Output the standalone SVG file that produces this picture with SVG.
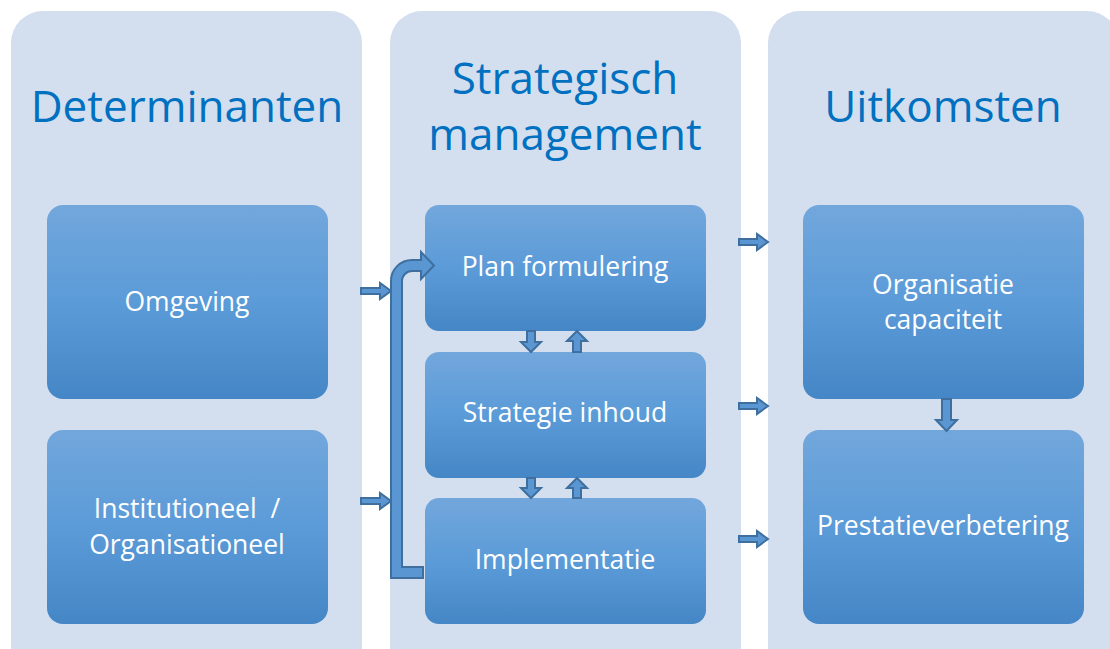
<svg xmlns="http://www.w3.org/2000/svg" width="1110" height="649" viewBox="0 0 1110 649">
  <defs>
    <linearGradient id="boxFill" x1="0" y1="0" x2="0" y2="1">
      <stop offset="0" stop-color="#72a7dc"/>
      <stop offset="0.5" stop-color="#5b9bd8"/>
      <stop offset="1" stop-color="#4586c6"/>
    </linearGradient>
    <style>
      .col { fill: #d3deef; }
      .box { fill: url(#boxFill); }
      .title { font-family: "Open Sans", "Noto Sans", sans-serif; font-size: 44px; fill: #0070c0; text-anchor: middle; }
      .label { font-family: "Open Sans", "Noto Sans", sans-serif; font-size: 26.5px; fill: #ffffff; text-anchor: middle; white-space: pre; }
      .arrow { fill: #5a97d2; stroke: #3e6f9f; stroke-width: 2; stroke-linejoin: miter; }
    </style>
  </defs>

  <rect width="1110" height="649" fill="#ffffff"/>

  <!-- column backgrounds -->
  <g id="col-determinanten">
    <rect class="col" x="11" y="11" width="351" height="680" rx="32"/>
    <text class="title" x="187" y="122">Determinanten</text>
  </g>
  <g id="col-strategisch">
    <rect class="col" x="390" y="11" width="351" height="680" rx="32"/>
    <text class="title" x="565" y="94">Strategisch</text>
    <text class="title" x="565" y="150">management</text>
  </g>
  <g id="col-uitkomsten">
    <rect class="col" x="768" y="11" width="351" height="680" rx="32"/>
    <text class="title" x="943" y="122">Uitkomsten</text>
  </g>

  <!-- determinants -->
  <g id="node-omgeving">
    <rect class="box" x="47" y="205" width="281" height="194" rx="16"/>
    <text class="label" x="187" y="311">Omgeving</text>
  </g>
  <g id="node-institutioneel">
    <rect class="box" x="47" y="430" width="281" height="194" rx="16"/>
    <text class="label" x="187" y="518" xml:space="preserve">Institutioneel  /</text>
    <text class="label" x="187" y="554">Organisationeel</text>
  </g>

  <!-- strategic management -->
  <g id="node-plan">
    <rect class="box" x="425" y="205" width="281" height="126" rx="14"/>
    <text class="label" x="565" y="276">Plan formulering</text>
  </g>
  <g id="node-inhoud">
    <rect class="box" x="425" y="352" width="281" height="126" rx="14"/>
    <text class="label" x="565" y="422">Strategie inhoud</text>
  </g>
  <g id="node-implementatie">
    <rect class="box" x="425" y="498" width="281" height="126" rx="14"/>
    <text class="label" x="565" y="569">Implementatie</text>
  </g>

  <!-- outcomes -->
  <g id="node-capaciteit">
    <rect class="box" x="803" y="205" width="281" height="194" rx="16"/>
    <text class="label" x="943" y="294">Organisatie</text>
    <text class="label" x="943" y="329">capaciteit</text>
  </g>
  <g id="node-prestatie">
    <rect class="box" x="803" y="430" width="281" height="194" rx="16"/>
    <text class="label" x="943" y="535">Prestatieverbetering</text>
  </g>

  <!-- connectors -->
  <g id="connectors">
    <!-- determinants into strategy -->
    <path class="arrow" d="M361,288 H380 V283 L391,291 L380,299 V294 H361 Z"/>
    <path class="arrow" d="M361,498 H380 V493 L391,501 L380,509 V504 H361 Z"/>

    <!-- feedback loop from implementation back to planning -->
    <path class="arrow" d="M391,578 H423 V567 H402 V281 A10,10 0 0 1 412,271 H421 V279 L434,265.5 L421,252 V260 H412 A21,21 0 0 0 391,281 Z"/>

    <!-- plan <-> inhoud -->
    <path class="arrow" d="M527,331 H535 V342 H541 L531,352 L521,342 H527 Z"/>
    <path class="arrow" d="M573,352 H581 V341 H587 L577,331 L567,341 H573 Z"/>

    <!-- inhoud <-> implementatie -->
    <path class="arrow" d="M527,478 H535 V488 H541 L531,498 L521,488 H527 Z"/>
    <path class="arrow" d="M573,498 H581 V488 H587 L577,478 L567,488 H573 Z"/>

    <!-- strategy into outcomes -->
    <path class="arrow" d="M739,239 H757 V234 L768,242 L757,250 V245 H739 Z"/>
    <path class="arrow" d="M739,403 H757 V398 L768,406 L757,414 V409 H739 Z"/>
    <path class="arrow" d="M739,536 H757 V531 L768,539 L757,547 V542 H739 Z"/>

    <!-- capaciteit to prestatie -->
    <path class="arrow" d="M942,399 H951 V420 H957 L946.5,431 L936,420 H942 Z"/>
  </g>
</svg>
